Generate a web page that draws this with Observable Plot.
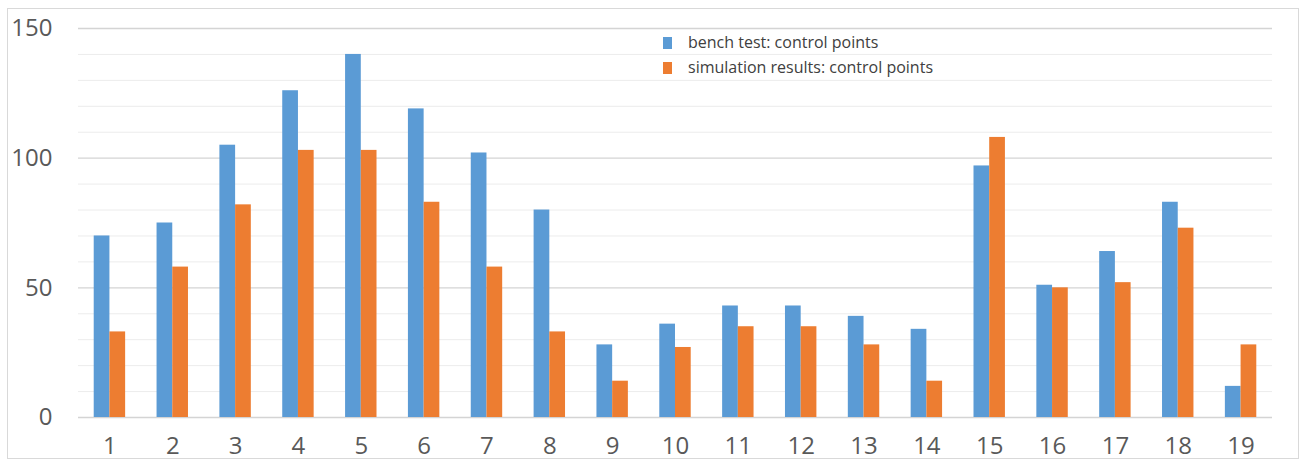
<!DOCTYPE html>
<html>
<head>
<meta charset="utf-8">
<script src="https://cdn.jsdelivr.net/npm/d3@7"></script>
<script src="https://cdn.jsdelivr.net/npm/@observablehq/plot@0.6"></script>
<style>
  html, body { margin: 0; padding: 0; background: #fff; }
  #wrap { position: relative; width: 1306px; height: 463px; overflow: hidden; font-family: "Open Sans", sans-serif; }
  #border { position: absolute; left: 7px; top: 8px; width: 1292px; height: 451px; border: 1px solid #d9d9d9; box-sizing: border-box; }
  #legend { position: absolute; left: 663px; top: 30px; font-size: 16px; color: #404040; line-height: 25px; }
  #legend .item { display: flex; align-items: center; }
  #legend .sw { width: 9px; height: 12px; margin-right: 16px; }
  #chart { position: absolute; left: 0; top: 0; }
</style>
</head>
<body>
<div id="wrap">
  <div id="border"></div>
  <div id="chart"></div>
  <div id="legend"></div>
</div>
<script>
const categories = ["1","2","3","4","5","6","7","8","9","10","11","12","13","14","15","16","17","18","19"];
const benchTest = [70, 75, 105, 126, 140, 119, 102, 80, 28, 36, 43, 43, 39, 34, 97, 51, 64, 83, 12];
const simulation = [33, 58, 82, 103, 103, 83, 58, 33, 14, 27, 35, 35, 28, 14, 108, 50, 52, 73, 28];
const seriesNames = ["bench test: control points", "simulation results: control points"];
const seriesColors = ["#5B9BD5", "#ED7D31"];
const yTicks = [0, 50, 100, 150];
const minorTicks = [10, 20, 30, 40, 60, 70, 80, 90, 110, 120, 130, 140];

const rows = [];
categories.forEach((c, i) => {
  rows.push({cat: c, series: seriesNames[0], value: benchTest[i]});
  rows.push({cat: c, series: seriesNames[1], value: simulation[i]});
});

const W = 1306, H = 463, ML = 78, MR = 34, MT = 28, MB = 46;
const step = (W - ML - MR) / categories.length;
const bw = step * 0.5;
const half = bw / 2;

const plot = Plot.plot({
  width: W,
  height: H,
  marginLeft: ML,
  marginRight: MR,
  marginTop: MT,
  marginBottom: MB,
  style: {fontFamily: "'Open Sans', sans-serif", background: "transparent"},
  x: {domain: categories, paddingInner: 0.5, paddingOuter: 0.25, round: false, label: null},
  y: {domain: [0, 150], label: null},
  color: {domain: seriesNames, range: seriesColors},
  marks: [
    Plot.ruleY(minorTicks, {stroke: "#ececec", strokeWidth: 1}),
    Plot.ruleY(yTicks, {stroke: "#d4d4d4", strokeWidth: 1.3}),
    Plot.barY(rows.filter(d => d.series === seriesNames[0]), {x: "cat", y: "value", fill: seriesColors[0], insetRight: half}),
    Plot.barY(rows.filter(d => d.series === seriesNames[1]), {x: "cat", y: "value", fill: seriesColors[1], insetLeft: half}),
    Plot.axisY({ticks: yTicks, tickSize: 0, tickPadding: 26, fontSize: 24, fill: "#595959", label: null}),
    Plot.axisX({tickSize: 0, tickPadding: 19, fontSize: 24, fill: "#595959", label: null})
  ]
});
document.getElementById("chart").appendChild(plot);

const legend = document.getElementById("legend");
seriesNames.forEach((n, i) => {
  const item = document.createElement("div");
  item.className = "item";
  const sw = document.createElement("span");
  sw.className = "sw";
  sw.style.background = seriesColors[i];
  const t = document.createElement("span");
  t.textContent = n;
  item.appendChild(sw);
  item.appendChild(t);
  legend.appendChild(item);
});
</script>
</body>
</html>
